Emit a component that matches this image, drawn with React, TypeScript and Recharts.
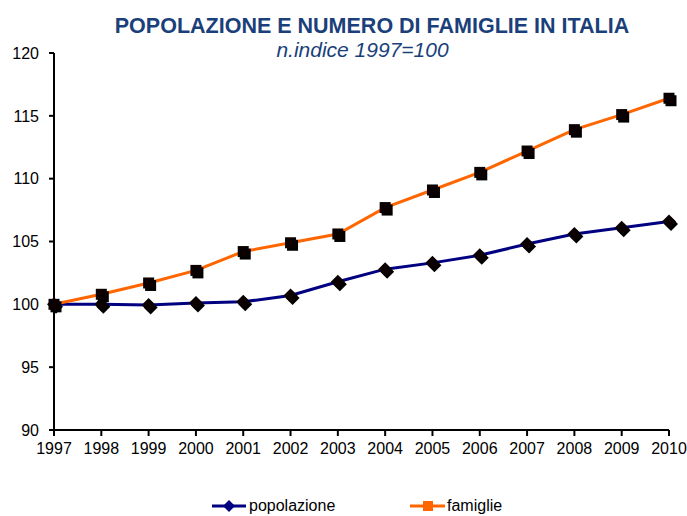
import { Line, LineChart, XAxis, YAxis } from 'recharts';

const years = ['1997', '1998', '1999', '2000', '2001', '2002', '2003', '2004', '2005', '2006', '2007', '2008', '2009', '2010'];
const popolazione = [100, 100, 99.95, 100.1, 100.2, 100.7, 101.8, 102.8, 103.3, 103.9, 104.8, 105.6, 106.1, 106.6];
const famiglie = [100, 100.8, 101.7, 102.7, 104.2, 104.9, 105.6, 107.7, 109.1, 110.5, 112.2, 113.9, 115.1, 116.4];
const yTicks = [90, 95, 100, 105, 110, 115, 120];

const data = years.map((y, i) => ({ year: y, popolazione: popolazione[i], famiglie: famiglie[i] }));

const FONT = '"Liberation Sans", Arial, sans-serif';
const NAVY = '#000080';
const ORANGE = '#ff6600';
const TITLE = '#1a3f7a';

function Diamond(props: any) {
  const { cx, cy, index } = props;
  if (cx == null || cy == null) return null;
  const r = 7;
  const pts = (x: number, y: number) => `${x},${y - r} ${x + r},${y} ${x},${y + r} ${x - r},${y}`;
  return (
    <g key={`d-${index}`}>
      <polygon points={pts(cx + 2, cy + 2.5)} fill="#000" />
      <polygon points={pts(cx, cy)} fill="#0a0000" />
    </g>
  );
}

function Square(props: any) {
  const { cx, cy, index } = props;
  if (cx == null || cy == null) return null;
  const s = 11;
  return (
    <g key={`s-${index}`}>
      <rect x={cx - s / 2 + 2} y={cy - s / 2 + 2.5} width={s} height={s} fill="#000" />
      <rect x={cx - s / 2} y={cy - s / 2} width={s} height={s} fill="#0a0000" />
    </g>
  );
}

export default function App() {
  return (
    <div style={{ position: 'absolute', left: 0, top: 0, width: 687, height: 516, background: '#fff', fontFamily: FONT, overflow: 'hidden' }}>
      <div style={{ position: 'absolute', left: 0, width: 744, top: 14, textAlign: 'center', color: TITLE, fontWeight: 'bold', fontSize: 21.5, whiteSpace: 'nowrap' }}>
        POPOLAZIONE E NUMERO DI FAMIGLIE IN ITALIA
      </div>
      <div style={{ position: 'absolute', left: 0, width: 725, top: 38, textAlign: 'center', color: TITLE, fontStyle: 'italic', fontSize: 21, whiteSpace: 'nowrap' }}>
        n.indice 1997=100
      </div>
      <LineChart width={687} height={516} data={data} margin={{ top: 53, right: 18, bottom: 56, left: 0 }}>
        <XAxis
          dataKey="year"
          height={30}
          axisLine={{ stroke: '#000', strokeWidth: 2 }}
          tickLine={{ stroke: '#000', strokeWidth: 2 }}
          tickSize={6}
          tickMargin={7}
          interval={0}
          tick={{ fill: '#000', fontSize: 16, fontFamily: FONT }}
        />
        <YAxis
          width={54}
          domain={[90, 120]}
          ticks={yTicks}
          axisLine={{ stroke: '#000', strokeWidth: 2 }}
          tickLine={{ stroke: '#000', strokeWidth: 2 }}
          tickSize={5}
          tickMargin={10}
          tick={{ fill: '#000', fontSize: 16, fontFamily: FONT }}
        />
        <Line dataKey="popolazione" stroke={NAVY} strokeWidth={3} dot={Diamond} activeDot={false} isAnimationActive={false} />
        <Line dataKey="famiglie" stroke={ORANGE} strokeWidth={3} dot={Square} activeDot={false} isAnimationActive={false} />
      </LineChart>
      <div style={{ position: 'absolute', left: 212, top: 496, fontSize: 16, lineHeight: '18px', color: '#000', whiteSpace: 'nowrap' }}>
        <svg width={34} height={16} style={{ verticalAlign: 'middle', marginRight: 3 }}>
          <line x1={0} y1={8} x2={34} y2={8} stroke={NAVY} strokeWidth={3} />
          <polygon points="17,2 23,8 17,14 11,8" fill={NAVY} />
        </svg>
        <span style={{ verticalAlign: 'middle' }}>popolazione</span>
      </div>
      <div style={{ position: 'absolute', left: 410, top: 496, fontSize: 16, lineHeight: '18px', color: '#000', whiteSpace: 'nowrap' }}>
        <svg width={35} height={16} style={{ verticalAlign: 'middle', marginRight: 2 }}>
          <line x1={0} y1={8} x2={35} y2={8} stroke={ORANGE} strokeWidth={3} />
          <rect x={13} y={3} width={10} height={10} fill={ORANGE} />
        </svg>
        <span style={{ verticalAlign: 'middle' }}>famiglie</span>
      </div>
    </div>
  );
}
